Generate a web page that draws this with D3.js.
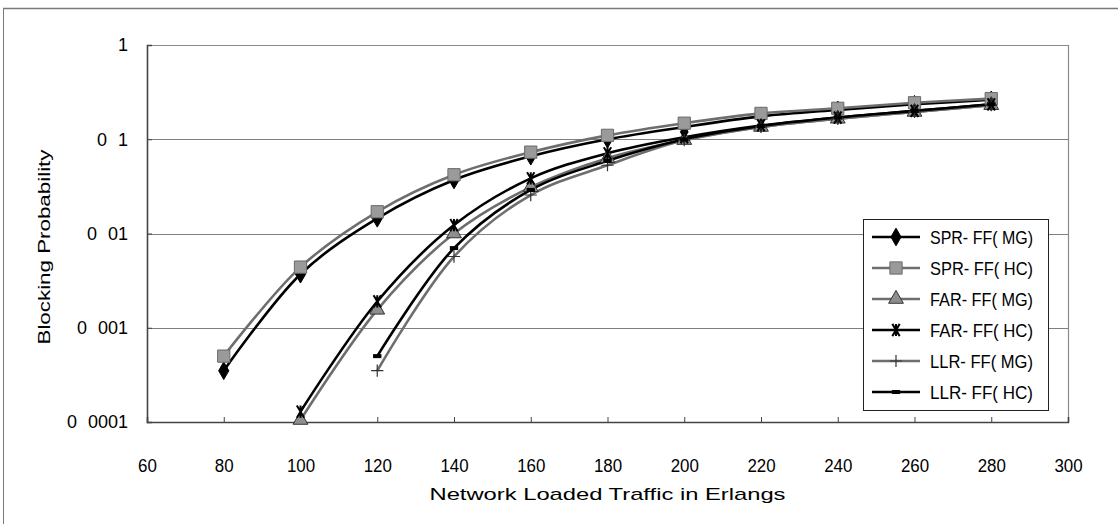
<!DOCTYPE html>
<html>
<head>
<meta charset="utf-8">
<script src="https://cdn.jsdelivr.net/npm/d3@7"></script>
<style>
  html, body { margin: 0; padding: 0; background: #fff; }
  svg { display: block; }
  text { font-family: "Liberation Sans", Arial, sans-serif; fill: #000; }
</style>
</head>
<body>
<svg id="chart" width="1118" height="524"></svg>
<script>
// Load values (Erlangs) for each series
const loadSPR = [80, 100, 120, 140, 160, 180, 200, 220, 240, 260, 280];
const loadFAR = [100, 120, 140, 160, 180, 200, 220, 240, 260, 280];
const loadLLR = [120, 140, 160, 180, 200, 220, 240, 260, 280];

// Blocking probability per series
const sprMG = [0.00035, 0.0037, 0.0145, 0.037, 0.066, 0.100, 0.135, 0.175, 0.205, 0.235, 0.262];
const sprHC = [0.0005, 0.0044, 0.017, 0.042, 0.073, 0.110, 0.148, 0.188, 0.213, 0.244, 0.270];
const farMG = [0.000105, 0.00155, 0.010, 0.031, 0.063, 0.098, 0.135, 0.165, 0.195, 0.230];
const farHC = [0.000129, 0.0019, 0.0123, 0.0385, 0.071, 0.105, 0.140, 0.170, 0.200, 0.235];
const llrMG = [0.00035, 0.0057, 0.0256, 0.053, 0.098, 0.135, 0.165, 0.195, 0.230];
const llrHC = [0.0005, 0.0070, 0.029, 0.059, 0.100, 0.138, 0.170, 0.200, 0.235];

const seriesNames = ["SPR- FF( MG)", "SPR- FF( HC)", "FAR- FF( MG)", "FAR- FF( HC)", "LLR- FF( MG)", "LLR- FF( HC)"];

const xTicks = [60, 80, 100, 120, 140, 160, 180, 200, 220, 240, 260, 280, 300];
const yTicks = [0.0001, 0.001, 0.01, 0.1, 1];
const yTickLabels = ["0 0001", "0 001", "0 01", "0 1", "1"];

const xTitle = "Network Loaded Traffic in Erlangs";
const yTitle = "Blocking Probability";

const FONT = "Liberation Sans, Arial, sans-serif";

const svg = d3.select("#chart");
const plot = { left: 147, right: 1068, top: 45, bottom: 422 };

const x = d3.scaleLinear().domain([60, 300]).range([plot.left, plot.right]);
const y = d3.scaleLog().domain([0.0001, 1]).range([plot.bottom, plot.top]);

// outer chart frame
svg.append("line").attr("x1", 3).attr("x2", 1118).attr("y1", 8.5).attr("y2", 8.5)
  .attr("stroke", "#7a7a7a").attr("stroke-width", 1.5);
svg.append("line").attr("x1", 3.5).attr("x2", 3.5).attr("y1", 8).attr("y2", 524)
  .attr("stroke", "#7a7a7a").attr("stroke-width", 1);

// horizontal gridlines
svg.append("g").selectAll("line").data(yTicks.slice(1, -1)).join("line")
  .attr("x1", plot.left).attr("x2", plot.right)
  .attr("y1", d => Math.round(y(d)) + 0.5).attr("y2", d => Math.round(y(d)) + 0.5)
  .attr("stroke", "#7f7f7f").attr("stroke-width", 1);

// plot frame (top/right)
svg.append("path")
  .attr("d", `M${plot.left},${plot.top + 0.5}H${plot.right + 0.5}V${plot.bottom}`)
  .attr("fill", "none").attr("stroke", "#8a8a8a").attr("stroke-width", 1.2);

// axes
const xAxis = d3.axisBottom(x).tickValues(xTicks).tickSize(-5).tickFormat(d3.format("d"));
const gx = svg.append("g").attr("transform", `translate(0,${plot.bottom})`).call(xAxis);
gx.select(".domain").attr("stroke", "#444").attr("stroke-width", 1.6);
gx.selectAll(".tick line").attr("stroke", "#444");
gx.selectAll(".tick text").attr("y", 44).attr("dy", "0.35em")
  .attr("font-size", 18).attr("font-family", FONT).attr("fill", "#000")
  .attr("textLength", d => String(d).length * 9.4).attr("lengthAdjust", "spacingAndGlyphs");

const yAxis = d3.axisLeft(y).tickValues(yTicks).tickSize(-5)
  .tickFormat((d, i) => yTickLabels[i]);
const gy = svg.append("g").attr("transform", `translate(${plot.left},0)`).call(yAxis);
gy.select(".domain").attr("stroke", "#444").attr("stroke-width", 1.6);
gy.selectAll(".tick line").attr("stroke", "#444");
gy.selectAll(".tick text").attr("x", -19).attr("font-size", 18)
  .attr("word-spacing", 6)
  .attr("font-family", FONT).attr("fill", "#000");

// axis titles
svg.append("text").attr("x", (plot.left + plot.right) / 2).attr("y", 494)
  .attr("text-anchor", "middle").attr("dominant-baseline", "central")
  .attr("font-size", 17).attr("textLength", 356).attr("lengthAdjust", "spacingAndGlyphs")
  .text(xTitle);
svg.append("text").attr("transform", "translate(44,247) rotate(-90)")
  .attr("text-anchor", "middle").attr("dominant-baseline", "central")
  .attr("font-size", 17).attr("textLength", 195).attr("lengthAdjust", "spacingAndGlyphs")
  .text(yTitle);

// custom marker shapes
const asterisk = {
  draw(ctx, size) {
    const r = Math.sqrt(size) / 2;
    ctx.moveTo(0, -r); ctx.lineTo(0, r);
    ctx.moveTo(-r * 0.6, -r); ctx.lineTo(r * 0.6, r);
    ctx.moveTo(r * 0.6, -r); ctx.lineTo(-r * 0.6, r);
  }
};
const plus = {
  draw(ctx, size) {
    const r = Math.sqrt(size) / 2;
    ctx.moveTo(0, -r); ctx.lineTo(0, r);
    ctx.moveTo(-r, 0); ctx.lineTo(r, 0);
  }
};
const dash = {
  draw(ctx, size) {
    const w = Math.sqrt(size) / 2;
    ctx.rect(-w, -2, 2 * w, 4);
  }
};

const series = [
  { name: seriesNames[0], xs: loadSPR, ys: sprMG, line: "#000", type: d3.symbolDiamond, size: 90, fill: "#000", stroke: "#000", sw: 1 },
  { name: seriesNames[1], xs: loadSPR, ys: sprHC, line: "#6e6e6e", type: d3.symbolSquare, size: 150, fill: "#9a9a9a", stroke: "#6a6a6a", sw: 1 },
  { name: seriesNames[2], xs: loadFAR, ys: farMG, line: "#6e6e6e", type: d3.symbolTriangle, size: 95, fill: "#8e8e8e", stroke: "#333", sw: 1 },
  { name: seriesNames[3], xs: loadFAR, ys: farHC, line: "#000", type: asterisk, size: 150, fill: "none", stroke: "#000", sw: 2 },
  { name: seriesNames[4], xs: loadLLR, ys: llrMG, line: "#6e6e6e", type: plus, size: 150, fill: "none", stroke: "#333", sw: 1.2 },
  { name: seriesNames[5], xs: loadLLR, ys: llrHC, line: "#000", type: dash, size: 70, fill: "#000", stroke: "#000", sw: 0 }
];

const lineGen = d3.line().x(d => x(d[0])).y(d => y(d[1])).curve(d3.curveCatmullRom.alpha(0.5));

// smoothed lines
const gLines = svg.append("g");
series.forEach(s => {
  const pts = s.xs.map((v, i) => [v, s.ys[i]]);
  gLines.append("path").datum(pts).attr("d", lineGen)
    .attr("fill", "none").attr("stroke", s.line).attr("stroke-width", 2.6);
});

// markers
const gMarks = svg.append("g");
series.forEach(s => {
  const pts = s.xs.map((v, i) => [v, s.ys[i]]);
  gMarks.append("g").selectAll("path").data(pts).join("path")
    .attr("transform", d => `translate(${x(d[0])},${y(d[1])})`)
    .attr("d", d3.symbol().type(s.type).size(s.size))
    .attr("fill", s.fill).attr("stroke", s.stroke).attr("stroke-width", s.sw);
});

// legend
const lg = { x: 863, y: 219, w: 185, h: 191 };
const gLeg = svg.append("g");
gLeg.append("rect").attr("x", lg.x + 0.5).attr("y", lg.y + 0.5).attr("width", lg.w).attr("height", lg.h)
  .attr("fill", "#fff").attr("stroke", "#222").attr("stroke-width", 1);
series.forEach((s, i) => {
  const cy = 237 + i * 31;
  gLeg.append("line").attr("x1", 872).attr("x2", 920).attr("y1", cy).attr("y2", cy)
    .attr("stroke", s.line).attr("stroke-width", 2.6);
  gLeg.append("path").attr("transform", `translate(896,${cy})`)
    .attr("d", d3.symbol().type(s.type).size(s.size))
    .attr("fill", s.fill).attr("stroke", s.stroke).attr("stroke-width", s.sw);
  gLeg.append("text").attr("x", 930).attr("y", cy + 1).attr("dominant-baseline", "central")
    .attr("font-size", 18).attr("textLength", 103).attr("lengthAdjust", "spacingAndGlyphs")
    .text(s.name);
});
</script>
</body>
</html>
